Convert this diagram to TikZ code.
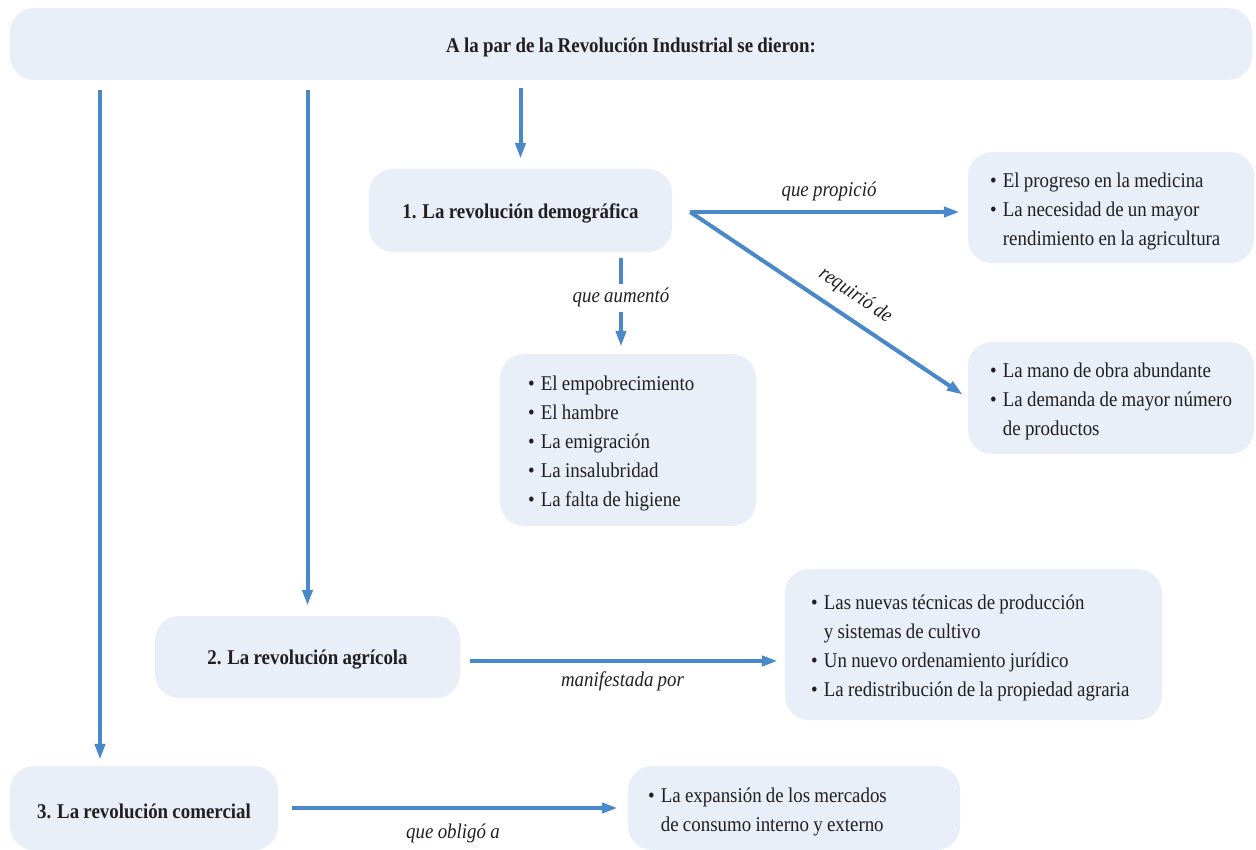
\documentclass[tikz,border=0pt]{standalone}
\usepackage{fontspec}
\setmainfont[FakeStretch=0.9,WordSpace=0.9]{Liberation Serif}
\usetikzlibrary{arrows.meta,calc}
\definecolor{boxfill}{HTML}{E8EFF8}
\definecolor{arrowblue}{HTML}{4A89C9}
\definecolor{inktext}{HTML}{231F20}
\newcommand{\mybul}{\textbullet\kern0.3em}
\newcommand{\lowertext}[1]{\raisebox{-3pt}[\height][\depth]{#1}}
\newcommand{\bulletrows}[1]{\lowertext{\spaceskip=0pt\xspaceskip=0pt\begin{tabular}{@{}l@{}l@{}}#1\end{tabular}}}
\tikzset{
  box/.style={fill=boxfill, rounded corners=24pt, inner sep=0pt, text=inktext,
              font=\fontsize{21}{29}\selectfont},
  titlebox/.style={box, font=\fontsize{21}{29}\selectfont\bfseries},
  listbox/.style={box, align=left},
  conn/.style={draw=arrowblue, line width=4pt, -{Triangle[length=16pt,width=10pt]}},
  lbl/.style={font=\fontsize{21}{29}\selectfont\itshape, text=inktext, inner sep=2pt}
}
\begin{document}
\begin{tikzpicture}[x=1pt,y=-1pt]
\useasboundingbox (0,0) rectangle (1256,850);

% boxes
\node[titlebox, minimum width=1242pt, minimum height=72pt] (top) at (631,44)
  {\lowertext{A la par de la Revolución Industrial se dieron:}};
\node[titlebox, minimum width=303pt, minimum height=83pt] (box1) at (520.5,210.5)
  {\lowertext{1. La revolución demográfica}};
\node[listbox, text width=242pt, minimum width=286pt, minimum height=111pt] (A) at (1111,207.5)
  {\bulletrows{\mybul & El progreso en la medicina\\
   \mybul & La necesidad de un mayor\\
   & rendimiento en la agricultura}};
\node[listbox, text width=242pt, minimum width=286pt, minimum height=112pt] (B) at (1111,398)
  {\bulletrows{\mybul & La mano de obra abundante\\
   \mybul & La demanda de mayor número\\
   & de productos}};
\node[listbox, text width=200pt, minimum width=256pt, minimum height=172pt] (list) at (628,440)
  {\bulletrows{\mybul & El empobrecimiento\\
   \mybul & El hambre\\
   \mybul & La emigración\\
   \mybul & La insalubridad\\
   \mybul & La falta de higiene}};
\node[titlebox, minimum width=305pt, minimum height=82pt] (box2) at (307.5,657)
  {\lowertext{2. La revolución agrícola}};
\node[listbox, text width=325pt, minimum width=377pt, minimum height=151pt] (list2) at (973.5,644.5)
  {\bulletrows{\mybul & Las nuevas técnicas de producción\\
   & y sistemas de cultivo\\
   \mybul & Un nuevo ordenamiento jurídico\\
   \mybul & La redistribución de la propiedad agraria}};
\node[titlebox, minimum width=268pt, minimum height=84pt] (box3) at (144,808)
  {\lowertext{3. La revolución comercial}};
\node[listbox, text width=292pt, minimum width=332pt, minimum height=84pt] (list3) at (794,808)
  {\bulletrows{\mybul & La expansión de los mercados\\
   & de consumo interno y externo}};

% connectors from the title
\draw[conn, shorten <=10pt, shorten >=6pt] ([xshift=-44pt]box3.north |- top.south) -- ([xshift=-44pt]box3.north);
\draw[conn, shorten <=10pt, shorten >=10pt] (box2.north |- top.south) -- (box2.north);
\draw[conn, shorten <=8pt, shorten >=10pt] (box1.north |- top.south) -- (box1.north);

% demographic revolution
\coordinate (dsplit) at ($(box1.east)+(18,1.5)$);
\draw[conn, shorten >=8pt] (dsplit) -- (dsplit -| A.west)
  node[lbl, midway, above=7pt] {que propició};
\draw[conn, shorten >=6pt] (dsplit) -- (B.west)
  node[lbl, pos=0.55, sloped, above=9pt] {requirió de};
\draw[conn, shorten <=6pt, shorten >=7pt] ([xshift=-7pt]list.north |- box1.south) -- ([xshift=-7pt]list.north)
  node[lbl, pos=0.45, fill=white, inner ysep=4.5pt] {que aumentó};

% agricultural revolution
\draw[conn, shorten <=10pt, shorten >=7pt] ([yshift=-4pt]box2.east) -- ([yshift=-4pt]box2.east -| list2.west)
  node[lbl, midway, below=7pt] {manifestada por};

% commercial revolution
\draw[conn, shorten <=14pt, shorten >=10pt] (box3.east) -- (box3.east -| list3.west)
  node[lbl, midway, below=12pt] {que obligó a};
\end{tikzpicture}
\end{document}
